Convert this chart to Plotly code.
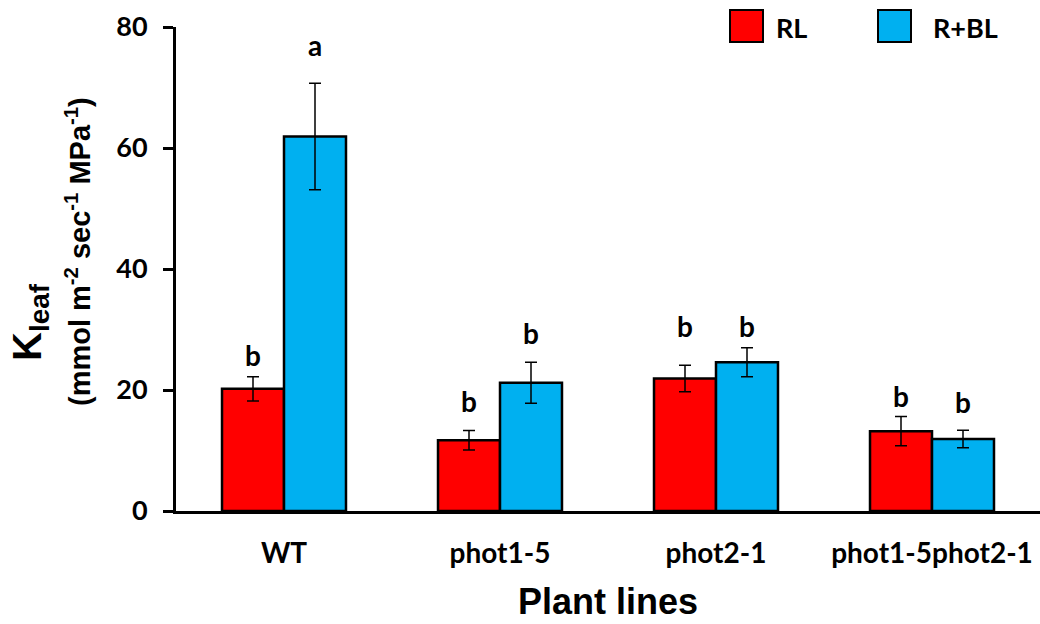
import plotly.graph_objects as go

# ---- data ----
categories = ["WT", "phot1-5", "phot2-1", "phot1-5phot2-1"]
series_names = ["RL", "R+BL"]
rl_values = [20.2, 11.7, 21.9, 13.2]
rl_errors = [2.0, 1.6, 2.2, 2.4]
rbl_values = [61.9, 21.2, 24.6, 11.9]
rbl_errors = [8.8, 3.4, 2.4, 1.45]
rl_letters = ["b", "b", "b", "b"]
rbl_letters = ["a", "b", "b", "b"]
rl_letter_y = [25.8, 18.2, 30.6, 19.0]
rbl_letter_y = [77.0, 29.4, 30.6, 18.0]
y_ticks = [0, 20, 40, 60, 80]
y_title_line1 = "K<sub>leaf</sub>"
y_title_line2 = "(mmol m<sup>-2</sup> sec<sup>-1</sup> MPa<sup>-1</sup>)"
x_title = "Plant lines"

RED = "#FF0000"
BLUE = "#00B0F0"
W, H = 1040, 624
ML, MR, MT, MB = 176, 0, 27, 113
LABEL_FONT = "Lato, Open Sans, sans-serif"
TITLE_FONT = "Liberation Sans, Arial, sans-serif"

fig = go.Figure()
for name, vals, errs, col in [(series_names[0], rl_values, rl_errors, RED),
                              (series_names[1], rbl_values, rbl_errors, BLUE)]:
    fig.add_trace(go.Bar(
        x=categories, y=vals, name=name,
        marker=dict(color=col, line=dict(color="black", width=2.5)),
        error_y=dict(type="data", array=errs, visible=True,
                     color="black", thickness=1.5, width=6),
        showlegend=False,
    ))

# significance letters, offset to each bar's position in the group
offset = 0.143
for i, cat in enumerate(categories):
    for letters, ly, dx in [(rl_letters, rl_letter_y, -offset), (rbl_letters, rbl_letter_y, offset)]:
        fig.add_annotation(x=i + dx, y=ly[i], xref="x", yref="y", text=letters[i],
                           showarrow=False, xanchor="center", yanchor="middle",
                           font=dict(family=LABEL_FONT, size=28, color="black", weight="bold"))

pw = W - ML - MR
ph = H - MT - MB
def px(x):
    return (x - ML) / pw
def py(y):
    return 1 - (y - MT) / ph

# custom legend (large squares)
legend_items = [(series_names[0], RED, 730, 774), (series_names[1], BLUE, 878, 931)]
for name, col, sx, tx in legend_items:
    fig.add_shape(type="rect", xref="paper", yref="paper",
                  x0=px(sx), x1=px(sx + 33), y0=py(42), y1=py(10),
                  fillcolor=col, line=dict(color="black", width=2))
    fig.add_annotation(xref="paper", yref="paper", x=px(tx), y=py(27), text=name,
                       showarrow=False, xanchor="left", yanchor="middle",
                       font=dict(family=LABEL_FONT, size=27, color="black", weight="bold"))

# y-axis title as two rotated lines
fig.add_annotation(xref="paper", yref="paper", x=px(30), y=py(322), text=y_title_line1,
                   showarrow=False, textangle=-90, xanchor="center", yanchor="middle",
                   font=dict(family=TITLE_FONT, size=40, color="black", weight="bold"))
fig.add_annotation(xref="paper", yref="paper", x=px(78), y=py(252), text=y_title_line2,
                   showarrow=False, textangle=-90, xanchor="center", yanchor="middle",
                   font=dict(family=TITLE_FONT, size=29, color="black", weight="bold"))

fig.update_layout(
    width=W, height=H,
    margin=dict(l=ML, r=MR, t=MT, b=MB),
    paper_bgcolor="white", plot_bgcolor="white",
    barmode="group", bargap=0.426, bargroupgap=0,
    xaxis=dict(
        range=[-0.5, 3.5], showline=True, linecolor="black", linewidth=3,
        ticks="", showgrid=False, zeroline=False,
        tickfont=dict(family=LABEL_FONT, size=28, color="black", weight="bold"),
        ticklabelstandoff=15,
        title=dict(text=x_title, standoff=22,
                   font=dict(family=TITLE_FONT, size=36, color="black", weight="bold")),
    ),
    yaxis=dict(
        range=[0, 80], tickvals=y_ticks, showline=True, linecolor="black", linewidth=3,
        ticks="outside", ticklen=10, tickwidth=3, tickcolor="black",
        showgrid=False, zeroline=False,
        tickfont=dict(family=LABEL_FONT, size=27, color="black", weight="bold"),
        ticklabelstandoff=10,
    ),
)

fig.write_html("out.html")
